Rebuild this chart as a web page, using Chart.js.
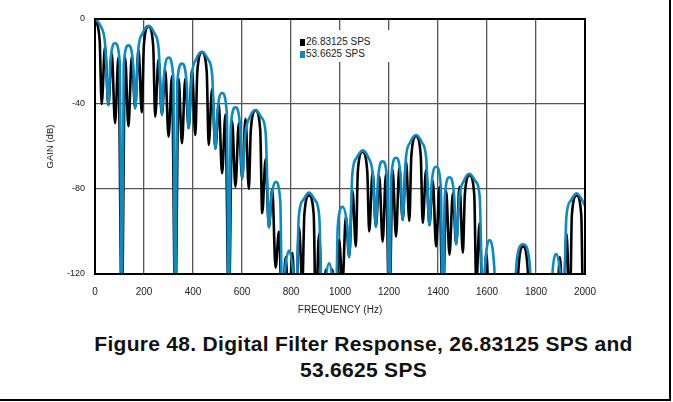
<!DOCTYPE html>
<html>
<head>
<meta charset="utf-8">
<script src="https://cdn.jsdelivr.net/npm/chart.js@4.4.1/dist/chart.umd.min.js"></script>
<style>
  html, body { margin: 0; padding: 0; background: #fff; }
  #page { position: relative; width: 669px; height: 399px; border-right: 2px solid #000; border-bottom: 2px solid #000; font-family: "Liberation Sans", Arial, sans-serif; }
  #grafico { position: absolute; left: 0; top: 0; }
  #legenda { position: absolute; left: 296px; top: 30px; width: 96px; height: 32px; background: #fff; }
  .item { position: absolute; left: 4px; font-size: 10px; line-height: 12px; color: #222; white-space: nowrap; }
  .item span { display: inline-block; width: 5px; height: 7px; margin-right: 1px; vertical-align: -1px; }
  #titulo { position: absolute; left: 33px; top: 331px; width: 661px; text-align: center; font-weight: bold; font-size: 21px; letter-spacing: 0.3px; line-height: 26px; color: #111; white-space: nowrap; }
</style>
</head>
<body>
<div id="page">
  <canvas id="grafico" width="669" height="330"></canvas>
  <div id="legenda">
    <div class="item" style="top:6px"><span style="background:#000"></span>26.83125 SPS</div>
    <div class="item" style="top:18px"><span style="background:#0a8bc6"></span>53.6625 SPS</div>
  </div>
  <div id="titulo">Figure 48. Digital Filter Response, 26.83125 SPS and<br>53.6625 SPS</div>
</div>
<script>
// [frequency Hz, gain dB]; values below -120 are off scale
const resposta26 = [
  [0,0],[19,-10],[27.3,-40],
  [41,-13],[54.6,-40.5],[68.3,-16],[81.9,-49],[95.6,-18],[109.2,-140],[122.9,-18],[136.5,-50.5],[150.2,-17.5],[163.8,-42],[177.5,-14.5],[191.1,-44],
  [199.3,-12.5],[218.4,-3.4],[237.5,-12.5],[245.7,-46],
  [259.4,-19],[273,-45],[286.7,-24],[300.3,-55.4],[314,-27],[327.6,-140],[341.3,-28],[354.9,-58.5],[368.6,-28],[382.2,-51.4],[395.9,-24],[409.5,-54.6],
  [417.7,-24.6],[436.8,-15.6],[455.9,-24.6],[464.1,-59.3],
  [477.8,-33],[491.4,-61],[505.1,-40],[518.7,-72.6],[532.4,-45],[546,-140],[559.7,-48],[573.3,-79],[587,-49],[600.6,-75],[614.3,-47],[627.9,-80],
  [636.1,-52],[655.2,-43],[674.3,-52],[682.5,-91.4],
  [696.2,-66],[709.8,-98],[723.5,-80],[737.1,-117],[750.8,-100],[764.4,-140],[778.1,-112],[791.7,-140],[805.4,-110],[819,-140],[832.7,-98],[846.3,-125],
  [854.5,-92],[873.6,-83],[892.7,-92],[900.9,-140],
  [914.6,-101],[928.2,-140],[941.9,-118],[955.5,-140],[969.2,-118],[982.8,-140],[996.5,-104],[1010.1,-125],[1023.8,-93],[1037.4,-112],[1051.1,-81],[1064.7,-107],
  [1072.9,-71.5],[1092,-62.5],[1111.1,-71.5],[1119.3,-100],
  [1133,-72],[1146.6,-97.7],[1160.3,-74],[1173.9,-104.8],[1187.6,-73],[1201.2,-140],[1214.9,-71],[1228.5,-102.4],[1242.2,-70],[1255.8,-94.6],[1269.5,-67],[1283.1,-95],
  [1291.3,-64.2],[1310.4,-55.2],[1329.5,-64.2],[1337.7,-96],
  [1351.4,-71],[1365,-97],[1378.7,-76],[1392.3,-107],[1406,-79],[1419.6,-140],[1433.3,-81],[1446.9,-111],[1460.6,-82],[1474.2,-106],[1487.9,-79],[1501.5,-110],
  [1509.7,-82.5],[1528.8,-73.5],[1547.9,-82.5],[1556.1,-125],
  [1569.8,-96],[1583.4,-140],[1597.1,-110],[1610.7,-140],[1624.4,-125],[1638,-150],[1651.7,-135],[1665.3,-150],[1679,-130],[1692.6,-150],[1706.3,-120],[1719.9,-150],
  [1728.1,-118],[1747.2,-107],[1766.3,-118],[1774.5,-150],
  [1788.2,-125],[1801.8,-150],[1815.5,-135],[1829.1,-150],[1842.8,-130],[1856.4,-150],[1870.1,-120],[1883.7,-140],[1897.4,-112],[1911,-140],[1924.7,-101],[1938.3,-140],
  [1946.5,-92],[1965.6,-83],[1984.7,-92],[1992.9,-140],[2000,-125]
];

const resposta53 = [
  [0,0],[24,-3.5],[41.5,-12],[54.6,-40.5],
  [62.8,-20.4],[81.9,-11.4],[101,-20.4],[109.2,-140],
  [117.4,-21.4],[136.5,-12.4],[155.6,-21.4],[163.8,-42],
  [176.9,-14.2],[194.4,-6.7],[218.4,-3.2],[242.4,-6.7],[259.9,-14.2],[273,-45],
  [281.2,-27.1],[300.3,-18.1],[319.4,-27.1],[327.6,-140],
  [335.8,-30],[354.9,-21],[374,-30],[382.2,-51.4],
  [395.3,-26.4],[412.8,-18.9],[436.8,-15.4],[460.8,-18.9],[478.3,-26.4],[491.4,-61],
  [499.6,-43.8],[518.7,-34.8],[537.8,-43.8],[546,-140],
  [554.2,-50.6],[573.3,-41.6],[592.4,-50.6],[600.6,-75],
  [613.7,-53.8],[631.2,-46.3],[655.2,-42.8],[679.2,-46.3],[696.7,-53.8],[709.8,-98],
  [718,-85.6],[737.1,-76.6],[756.2,-85.6],[764.4,-140],
  [772.6,-122],[791.7,-109],[810.8,-122],[819,-140],
  [832.1,-92.7],[849.6,-85.2],[873.6,-81.7],[897.6,-85.2],[915.1,-92.7],[928.2,-140],
  [936.4,-128],[955.5,-115],[974.6,-128],[982.8,-140],
  [991,-97.4],[1010.1,-88.4],[1029.2,-97.4],[1037.4,-112],
  [1050.5,-72.8],[1068,-65.3],[1092,-61.8],[1116,-65.3],[1133.5,-72.8],[1146.6,-97.7],
  [1154.8,-76],[1173.9,-67],[1193,-76],[1201.2,-140],
  [1209.4,-74.3],[1228.5,-65.3],[1247.6,-74.3],[1255.8,-94.6],
  [1268.9,-65.6],[1286.4,-58.1],[1310.4,-54.6],[1334.4,-58.1],[1351.9,-65.6],[1365,-97],
  [1373.2,-78.5],[1392.3,-69.5],[1411.4,-78.5],[1419.6,-140],
  [1427.8,-83.5],[1446.9,-74.5],[1466,-83.5],[1474.2,-106],
  [1487.3,-83.8],[1504.8,-76.3],[1528.8,-72.8],[1552.8,-76.3],[1570.3,-83.8],[1583.4,-140],
  [1591.6,-117],[1610.7,-104],[1629.8,-117],[1638,-140],
  [1646.2,-142],[1665.3,-130],[1684.4,-142],[1692.6,-150],
  [1705.7,-140],[1723.2,-112],[1747.2,-106],[1771.2,-112],[1788.7,-140],[1801.8,-150],
  [1810,-140],[1829.1,-128],[1848.2,-140],[1856.4,-150],
  [1864.6,-124],[1883.7,-110.6],[1902.8,-124],[1911,-140],
  [1924.1,-93],[1941.6,-85.5],[1965.6,-82],[1989.6,-85.5],[2000,-88]
];

const ticksFreq = [0, 200, 400, 600, 800, 1000, 1200, 1400, 1600, 1800, 2000];
const ticksGain = [-120, -80, -40, 0];

const fonte = "'Liberation Sans', Arial, sans-serif";

const moldura = {
  id: "moldura",
  afterDatasetsDraw(chart) {
    const { ctx, chartArea: a } = chart;
    ctx.save();
    ctx.strokeStyle = "#000";
    ctx.lineWidth = 2;
    ctx.strokeRect(a.left, a.top, a.right - a.left, a.bottom - a.top);
    ctx.restore();
  }
};

function serie(pontos) {
  return pontos.map(p => ({ x: p[0], y: p[1] }));
}

const ctx = document.getElementById("grafico").getContext("2d");

new Chart(ctx, {
  type: "line",
  data: {
    datasets: [
      {
        label: "26.83125 SPS",
        data: serie(resposta26),
        borderColor: "#000",
        borderWidth: 2.6,
        pointRadius: 0,
        cubicInterpolationMode: "monotone",
        order: 2
      },
      {
        label: "53.6625 SPS",
        data: serie(resposta53),
        borderColor: "#0a8bc6",
        borderWidth: 2.6,
        pointRadius: 0,
        cubicInterpolationMode: "monotone",
        order: 1
      }
    ]
  },
  options: {
    responsive: false,
    animation: false,
    events: [],
    layout: { padding: { left: 0, right: 84, top: 19, bottom: 0 } },
    plugins: { legend: { display: false }, tooltip: { enabled: false } },
    scales: {
      x: {
        type: "linear",
        min: 0,
        max: 2000,
        afterBuildTicks(s) { s.ticks = ticksFreq.map(v => ({ value: v })); },
        afterFit(s) { s.height = 56; },
        ticks: { color: "#222", font: { family: fonte, size: 10 }, padding: 12, maxRotation: 0, autoSkip: false, callback: v => String(v) },
        grid: { color: "#555", lineWidth: 1.3, drawTicks: false },
        border: { display: false },
        title: { display: true, text: "FREQUENCY (Hz)", color: "#222", font: { family: fonte, size: 10 }, padding: { top: 0, bottom: 14 } }
      },
      y: {
        min: -120,
        max: 0,
        afterBuildTicks(s) { s.ticks = ticksGain.map(v => ({ value: v })); },
        afterFit(s) { s.width = 95; },
        ticks: { color: "#222", font: { family: fonte, size: 9 }, padding: 10, callback: v => String(v) },
        grid: { color: "#555", lineWidth: 1.3, drawTicks: false },
        border: { display: false },
        title: { display: true, text: "GAIN (dB)", color: "#222", font: { family: fonte, size: 9.5 }, padding: { top: 45, bottom: 0 } }
      }
    }
  },
  plugins: [moldura]
});
</script>
</body>
</html>
